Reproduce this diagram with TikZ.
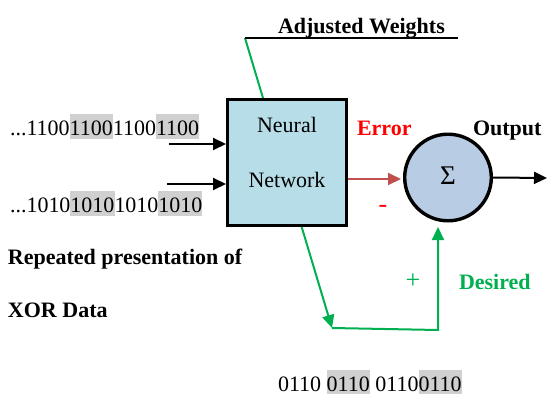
\documentclass[tikz,border=0pt]{standalone}
\usepackage{fontspec}
\setmainfont{Liberation Serif}
\usetikzlibrary{arrows.meta}
\definecolor{boxblue}{RGB}{183,222,232}
\definecolor{sumblue}{RGB}{184,204,228}
\definecolor{errred}{RGB}{192,80,77}
\definecolor{okgreen}{RGB}{0,176,80}
\definecolor{hlgray}{RGB}{208,208,208}
% grey band behind a group of bits
\newcommand{\hlbits}[1]{{\setlength{\fboxsep}{0pt}\colorbox{hlgray}{\rule[-4pt]{0pt}{25pt}#1}}}
\begin{document}
\begin{tikzpicture}[x=1pt,y=-1pt,
  font=\fontsize{22}{25}\selectfont,
  lbl/.style={inner sep=0pt, outer sep=0pt},
  bl/.style={lbl, anchor=base west},
  bold/.style={font=\fontsize{22}{25}\selectfont\bfseries},
  tipb/.style={-{Triangle[length=13pt,width=12pt]}},
  wire/.style={line width=2pt},
  nnbox/.style={draw, line width=3pt, fill=boxblue, minimum width=119pt,
                minimum height=126pt, inner sep=0pt},
  sumnode/.style={circle, draw, line width=3.4pt, fill=sumblue,
                  minimum size=86.6pt, inner sep=0pt}]
\useasboundingbox (0,0) rectangle (547,394);

% feedback path: weight adjustment line and desired output
\coordinate (aw) at (245,38);
\coordinate (awend) at (458,38);
\coordinate (fb) at (332,328);
\coordinate (cr) at (438,330);
\coordinate (dtip) at (438,227);
\draw[wire, okgreen, tipb] (aw) -- (fb);
\draw[wire, okgreen, tipb] (fb) -- (cr) -- (dtip);
\draw[wire] (aw) -- (awend);
\node[bl, bold] (adj) at (278,33) {Adjusted Weights};

% network and summing junction
\node[nnbox] (nn) at (287,162.5) {};
\node[lbl, anchor=base] (nn1) at (287,132) {Neural};
\node[lbl, anchor=base] (nn2) at (287,187) {Network};
\node[sumnode] (sum) at (448,177.5) {};
\node[lbl, font=\fontsize{27}{30}\selectfont] (sig) at (448,176) {Σ};

% input streams
\node[bl] (in1) at (10,135) {...1100\hlbits{1100}1100\hlbits{1100}};
\node[bl] (in2) at (10,212) {...1010\hlbits{1010}1010\hlbits{1010}};
\coordinate (a1) at (169,144);
\coordinate (a2) at (167,184);
\draw[wire, tipb] (a1) -- (a1 -| nn.west);
\draw[wire, tipb] (a2) -- (a2 -| nn.west);

% error and output
\coordinate (e1) at (348,179);
\coordinate (e2) at (401,179);
\draw[wire, errred, tipb] (e1) -- (e2);
\node[bl, text=red, bold] (err) at (357,135) {Error};
\node[lbl, text=red, font=\fontsize{26}{30}\selectfont] (minus) at (383,209) {-};
\node[bl, bold] (out) at (473,135) {Output};
\coordinate (oend) at (547,178);
\draw[wire, tipb] (sum.east) -- (oend);

\node[lbl, text=okgreen, font=\fontsize{26}{30}\selectfont] (plus) at (413,281) {+};
\node[bl, text=okgreen, bold] (des) at (459,289) {Desired};

% captions
\node[bl, bold] (cap1) at (8,264) {Repeated presentation of};
\node[bl, bold] (cap2) at (8,317) {XOR Data};
\node[bl] (tgt) at (278,391) {0110 \hlbits{0110} 0110\hlbits{0110}};
\end{tikzpicture}
\end{document}
